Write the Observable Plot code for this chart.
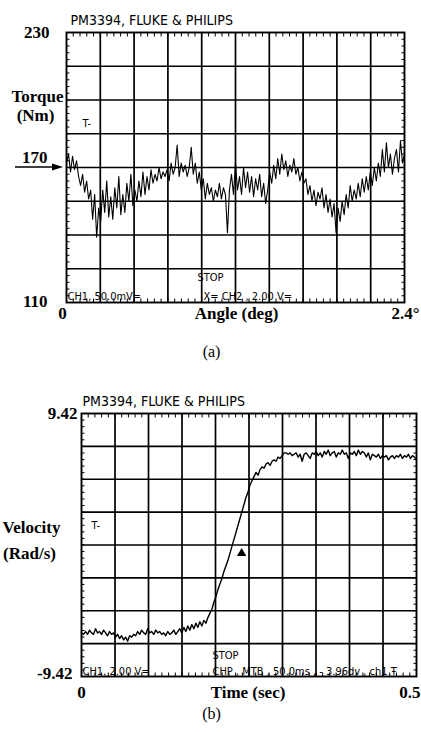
<!DOCTYPE html>
<html><head><meta charset="utf-8">
<script src="https://cdn.jsdelivr.net/npm/d3@7"></script>
<script src="https://cdn.jsdelivr.net/npm/@observablehq/plot@0.6"></script>
<style>
body{margin:0;background:#fff;width:421px;height:732px;overflow:hidden}
svg{display:block;overflow:visible}
</style></head><body><div id="a"></div><div id="b"></div>
<script>
// ---- data ----
const torque = [
172,176,168,175,169,173,166,
162,167,159,164,156,
160,147,158,139,152,
146,160,150,164,148,157,
147,161,152,166,149,158,
150,163,155,167,153,160,
155,164,157,168,158,
166,160,169,163,167,
164,170,165,168,166,
169,164,172,167,170,
180,166,172,168,
171,166,170,179,167,
172,163,168,160,165,
156,163,158,161,155,
160,157,163,156,161,
158,141,160,167,158,
172,160,166,158,170,
161,168,159,166,157,
165,160,167,157,163,
154,160,168,163,171,
165,174,167,176,169,
173,166,171,168,174,
167,170,164,168,163,
165,158,162,155,160,
153,159,156,161,152,
158,150,156,148,154,
141,152,146,155,149,
158,152,162,155,160,
156,163,157,165,159,
166,160,168,162,170,
164,172,166,178,168,
181,170,176,167,174,
178,168,182,172,176
];
const velocity = [
-6.3,-6.4,-6.2,-6.4,-6.1,-6.3,-6.4,-6.0,-6.3,-6.2,
-6.4,-6.1,-6.3,-6.5,-6.2,-6.4,-6.3,-6.6,-6.4,-6.7,
-6.5,-6.8,-6.6,-6.9,-6.5,-6.6,-6.4,-6.5,-6.2,-6.4,
-6.1,-6.3,-6.4,-6.0,-6.3,-6.2,-6.4,-6.1,-6.3,-6.2,
-6.4,-6.3,-6.5,-6.2,-6.4,-6.3,-6.1,-6.4,-6.2,-6.0,
-6.3,-5.9,-6.2,-5.8,-6.1,-5.7,-6.0,-5.6,-5.9,-5.5,
-5.8,-5.4,-5.6,-5.2,-4.9,-4.6,
-4.1,-3.7,-3.2,-2.8,-2.4,-1.9,-1.5,-1.1,-0.6,-0.1,0.4,0.9,1.4,1.9,2.4,2.9,3.4,
3.8,4.3,4.6,4.9,5.2,5.0,5.4,5.6,5.5,5.8,5.9,5.7,6.0,6.1,6.0,6.3,6.2,6.4,6.6,
6.6,6.5,6.6,6.4,6.5,6.6,6.3,6.5,6.0,6.5,
6.6,6.4,6.2,6.6,6.5,6.7,6.4,6.6,6.3,6.7,
6.5,6.8,6.4,6.6,6.7,6.3,6.6,6.5,6.8,6.5,
6.6,6.2,6.6,6.5,6.7,6.4,6.8,6.5,6.7,6.6,
6.3,6.6,6.1,6.5,6.4,6.3,6.5,6.2,6.4,6.3,
6.4,6.1,6.3,6.4,6.2,6.4,6.3,6.5,6.2,6.4,
6.3,6.5,6.2,6.4,6.3,6.1
];
const angleDomain = [0, 2.4];
const torqueDomain = [110, 230];
const timeDomain = [0, 0.5];
const velDomain = [-9.42, 9.42];
const angleGrid = [0.24,0.48,0.72,0.96,1.2,1.44,1.68,1.92,2.16];
const torqueGrid = [125,140,155,170,185,200,215];
const timeGrid = [0.05,0.1,0.15,0.2,0.25,0.3,0.35,0.4,0.45];
const velGrid = [-7.065,-4.71,-2.355,0,2.355,4.71,7.065];
const torqueTickLabels = ["230","170","110"];
const torqueTickValues = [230,170,110];
const angleTickLabels = ["0","2.4°"];
const velTickLabels = ["9.42","-9.42"];
const timeTickLabels = ["0","0.5"];
const triggerPoint = [{t:0.239, v:-0.6}];
const torqueRef = 170;

const torqueData = torque.map((v,i)=>({x: i*angleDomain[1]/(torque.length-1), y: v}));
const velData = velocity.map((v,i)=>({x: i*timeDomain[1]/(velocity.length-1), y: v}));

const serif = "Liberation Serif, Times New Roman, serif";
const scope = "Liberation Sans Narrow, DejaVu Sans Condensed, Arial Narrow, sans-serif";
const bold = {fontFamily:serif, fontWeight:"bold", fontSize:17, fill:"#000", lineAnchor:"bottom"};
const small = {fontFamily:scope, fontSize:11, fill:"#000", lineAnchor:"bottom", textAnchor:"start"};

function minor(dom, n){ const s=(dom[1]-dom[0])/n; return d3.range(n+1).map(i=>dom[0]+i*s); }

function scopeMarks(xdom, ydom, xg, yg){
  const mx = minor(xdom, 50), my = minor(ydom, 40);
  const none = () => "";
  return [
    Plot.ruleX(xg, {stroke:"#000", strokeWidth:1.7}),
    Plot.ruleY(yg, {stroke:"#000", strokeWidth:1.7}),
    Plot.axisX(mx, {anchor:"bottom", tickSize:-3.5, tickFormat:none, stroke:"#000", strokeWidth:1, label:null}),
    Plot.axisX(mx, {anchor:"top", tickSize:-3.5, tickFormat:none, stroke:"#000", strokeWidth:1, label:null}),
    Plot.axisY(my, {anchor:"left", tickSize:-3.5, tickFormat:none, stroke:"#000", strokeWidth:1, label:null}),
    Plot.axisY(my, {anchor:"right", tickSize:-3.5, tickFormat:none, stroke:"#000", strokeWidth:1, label:null}),
    Plot.frame({stroke:"#000", strokeWidth:1.9})
  ];
}

// ---------- chart (a) ----------
const chartA = Plot.plot({
  width: 421, height: 372,
  marginLeft: 66, marginRight: 17, marginTop: 32, marginBottom: 70,
  x: {domain: angleDomain, axis: null},
  y: {domain: torqueDomain, axis: null},
  style: {background: "#fff", overflow: "visible"},
  marks: [
    ...scopeMarks(angleDomain, torqueDomain, angleGrid, torqueGrid),
    Plot.line(torqueData, {x:"x", y:"y", stroke:"#000", strokeWidth:1.1}),
    Plot.text(["PM3394, FLUKE & PHILIPS"], {...small, fontSize:14, frameAnchor:"top-left", dx:4, dy:-8}),
    Plot.text(["T-"], {...small, frameAnchor:"top-left", dx:16, dy:94}),
    Plot.text(["STOP"], {...small, frameAnchor:"bottom-left", dx:131, dy:-22}),
    Plot.text(["CH1, 50.0mV="], {...small, frameAnchor:"bottom-left", dx:1, dy:-3}),
    Plot.text(["X= CH2 , 2.00 V="], {...small, frameAnchor:"bottom-left", dx:137, dy:-3}),
    Plot.text([torqueTickLabels[0]], {...bold, y:[torqueTickValues[0]], frameAnchor:"left", textAnchor:"end", dx:-17, dy:5}),
    Plot.text([torqueTickLabels[1]], {...bold, y:[torqueTickValues[1]], frameAnchor:"left", textAnchor:"end", dx:-19, dy:-5}),
    Plot.text([torqueTickLabels[2]], {...bold, y:[torqueTickValues[2]], frameAnchor:"left", textAnchor:"end", dx:-19, dy:4}),
    Plot.text(["Torque"], {...bold, frameAnchor:"top-left", dx:-29, dy:69, textAnchor:"middle"}),
    Plot.text(["(Nm)"], {...bold, frameAnchor:"top-left", dx:-31, dy:88, textAnchor:"middle"}),
    Plot.text([angleTickLabels[0]], {...bold, x:[angleDomain[0]], frameAnchor:"bottom", dy:16, dx:-4}),
    Plot.text([angleTickLabels[1]], {...bold, x:[angleDomain[1]], frameAnchor:"bottom", dy:16, dx:1}),
    Plot.text(["Angle (deg)"], {...bold, x:[1.2], frameAnchor:"bottom", dy:16, dx:1}),
    Plot.text(["(a)"], {fontFamily:serif, fontSize:16, fill:"#000", lineAnchor:"bottom", frameAnchor:"bottom-left", dx:145, dy:54, textAnchor:"middle"})
  ]
});
document.getElementById("a").append(chartA);

// arrow pointing at the 170 Nm reference level
{
  const yy = chartA.scale("y").apply(torqueRef);
  const g = d3.select(chartA).append("g");
  g.append("line").attr("x1", 15).attr("x2", 56).attr("y1", yy).attr("y2", yy).attr("stroke","#000").attr("stroke-width",1.4);
  g.append("path").attr("d", `M63,${yy} L52,${yy-3.5} L52,${yy+3.5} Z`).attr("fill","#000");
}

// ---------- chart (b) ----------
const chartB = Plot.plot({
  width: 421, height: 360,
  marginLeft: 81, marginRight: 5, marginTop: 41, marginBottom: 56,
  x: {domain: timeDomain, axis: null},
  y: {domain: velDomain, axis: null},
  style: {background: "#fff", overflow: "visible"},
  marks: [
    ...scopeMarks(timeDomain, velDomain, timeGrid, velGrid),
    Plot.line(velData, {x:"x", y:"y", stroke:"#000", strokeWidth:1.4}),
    Plot.dot(triggerPoint, {x:"t", y:"v", symbol:"triangle", r:3.5, fill:"#000"}),
    Plot.text(["PM3394, FLUKE & PHILIPS"], {...small, fontSize:14, frameAnchor:"top-left", dx:1, dy:-8}),
    Plot.text(["T-"], {...small, frameAnchor:"top-left", dx:10, dy:115}),
    Plot.text(["STOP"], {...small, frameAnchor:"bottom-left", dx:131, dy:-18}),
    Plot.text(["CH1, 2.00 V="], {...small, frameAnchor:"bottom-left", dx:1, dy:-2}),
    Plot.text(["CHP , MTB , 50.0ms , - 3.96dv , ch1 Ŧ"], {...small, frameAnchor:"bottom-left", dx:131, dy:-2}),
    Plot.text([velTickLabels[0]], {...bold, y:[velDomain[1]], frameAnchor:"left", textAnchor:"end", dx:-4, dy:5}),
    Plot.text([velTickLabels[1]], {...bold, y:[velDomain[0]], frameAnchor:"left", textAnchor:"end", dx:-9, dy:2}),
    Plot.text(["Velocity"], {...bold, frameAnchor:"top-left", dx:-50, dy:119, textAnchor:"middle"}),
    Plot.text(["(Rad/s)"], {...bold, frameAnchor:"top-left", dx:-52, dy:145, textAnchor:"middle"}),
    Plot.text([timeTickLabels[0]], {...bold, x:[timeDomain[0]], frameAnchor:"bottom", dy:21}),
    Plot.text([timeTickLabels[1]], {...bold, x:[timeDomain[1]], frameAnchor:"bottom", dy:21, textAnchor:"end", dx:4}),
    Plot.text(["Time (sec)"], {...bold, x:[0.25], frameAnchor:"bottom", dy:21, dx:-1}),
    Plot.text(["(b)"], {fontFamily:serif, fontSize:16, fill:"#000", lineAnchor:"bottom", frameAnchor:"bottom-left", dx:130, dy:42, textAnchor:"middle"})
  ]
});
document.getElementById("b").append(chartB);
</script></body></html>
